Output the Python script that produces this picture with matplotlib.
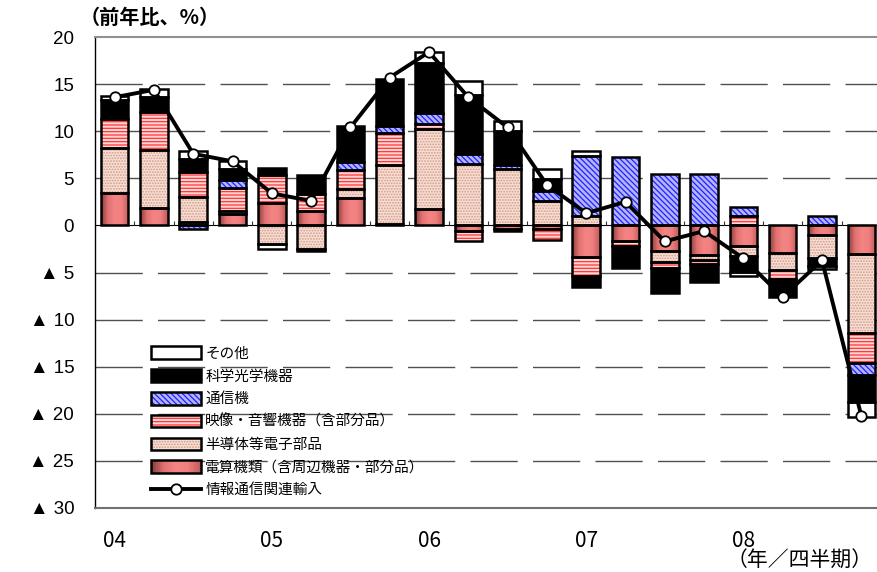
import numpy as np
import matplotlib
matplotlib.use("Agg")
import matplotlib.pyplot as plt
from matplotlib.patches import Patch, Rectangle
from matplotlib.lines import Line2D
from matplotlib.legend_handler import HandlerBase
from matplotlib.colors import LinearSegmentedColormap

plt.rcParams['font.family'] = ['Noto Sans CJK JP', 'DejaVu Sans']
plt.rcParams['hatch.linewidth'] = 0.9

# quarters 04Q1 .. 08Q4
quarters = ["04", "", "", "", "05", "", "", "", "06", "", "", "",
            "07", "", "", "", "08", "", "", ""]

# contributions (% points), stacked from the bottom up
densan = [3.4, 1.9, 0.4, 1.2, 2.4, 1.5, 2.9, 0.2, 1.75, -0.6,
          -0.35, -0.35, -3.35, -1.65, -2.7, -3.15, -2.2, -2.9, -1.0, -3.0]
handotai = [4.8, 6.1, 2.6, 0.3, -2.0, -2.5, 1.0, 6.2, 8.45, 6.5,
            6.0, 2.55, 1.05, 0, -1.15, -0.5, -1.05, -1.85, -2.45, -8.4]
eizo = [3.1, 4.0, 2.7, 2.5, 2.9, 1.8, 2.0, 3.4, 0.6, -1.05,
        -0.25, -1.25, -2.05, -0.55, -0.7, -0.4, 1.05, -0.9, 0, -3.25]
tsushin = [0, 0, -0.35, 0.8, 0, 0, 0.8, 0.75, 1.15, 1.05,
           0.45, 1.15, 6.35, 7.3, 5.5, 5.5, 0.9, 0, 1.05, -1.25]
kagaku = [2.0, 1.65, 1.3, 1.2, 0.8, 2.0, 3.8, 5.0, 5.3, 6.3,
          3.6, 1.2, -1.1, -2.35, -2.65, -2.0, -1.65, -1.95, -0.9, -2.8]
sonota = [0.4, 0.8, 0.95, 0.8, -0.5, -0.2, 0, 0, 1.2, 1.5,
          1.05, 1.05, 0.45, 0, 0, 0, -0.5, 0, -0.25, -1.6]
total = [13.6, 14.4, 7.6, 6.8, 3.4, 2.6, 10.4, 15.7, 18.4, 13.6,
         10.4, 4.3, 1.3, 2.5, -1.7, -0.6, -3.5, -7.6, -3.7, -20.2]

yticks = [20, 15, 10, 5, 0, -5, -10, -15, -20, -25, -30]
ylabels = ["20", "15", "10", "5", "0", "▲ 5", "▲ 10", "▲ 15", "▲ 20", "▲ 25", "▲ 30"]

names = ["電算機類（含周辺機器・部分品）", "半導体等電子部品", "映像・音響機器（含部分品）",
         "通信機", "科学光学機器", "その他"]
line_name = "情報通信関連輸入"

grad_cmap = LinearSegmentedColormap.from_list(
    "dens", ["#8a3e3e", "#e27272", "#f48484", "#f07e7e", "#c05c5c"])

# style per series: (face, hatch, hatch colour, gradient?)
styles = [
    ("#e87878", None, "none", True),
    ("#f6e0d6", "......", "#d79a88", False),
    ("#ffd6d6", "-----", "#ff3535", False),
    ("#b4b4ff", "\\\\\\\\\\\\", "#2020ff", False),
    ("black", None, "black", False),
    ("white", None, "white", False),
]

fig = plt.figure(figsize=(8.77, 5.72), dpi=100)
ax = fig.add_axes([95 / 877, 64 / 572, 782 / 877, 471 / 572])

x = np.arange(len(total))
w = 0.7
pos_b = np.zeros(len(x))
neg_b = np.zeros(len(x))

for vals, st in zip([densan, handotai, eizo, tsushin, kagaku, sonota], styles):
    v = np.array(vals, dtype=float)
    bottom = np.where(v >= 0, pos_b, neg_b)
    m = v != 0
    face, hatch, hcol, grad = st
    if grad:
        border = ax.bar(x[m], v[m], w, bottom=bottom[m], facecolor="none",
                        edgecolor="black", lw=1.8, zorder=3)
        for p in border.patches:
            x0, y0 = p.get_x(), p.get_y()
            im = ax.imshow(np.linspace(0, 1, 64).reshape(1, -1), cmap=grad_cmap,
                           extent=[x0, x0 + p.get_width(), y0, y0 + p.get_height()],
                           aspect="auto", zorder=2.5, interpolation="bilinear")
            im.set_clip_path(p)
    else:
        ax.bar(x[m], v[m], w, bottom=bottom[m], facecolor=face, hatch=hatch,
               edgecolor=hcol, lw=0, zorder=2.5)
        ax.bar(x[m], v[m], w, bottom=bottom[m], fill=False,
               edgecolor="black", lw=1.8, zorder=3)
    pos_b = pos_b + np.where(v > 0, v, 0)
    neg_b = neg_b + np.where(v < 0, v, 0)

ax.plot(x, total, color="black", lw=2.8, marker="o", ms=7.5,
        mfc="white", mec="black", mew=1.3, zorder=5)

# zero line with category separators
ax.axhline(0, color="black", lw=0.8, zorder=2)
ax.vlines(x[:-1] + 0.5, 0, 0.5, color="#333333", lw=0.8, zorder=2)

ax.set_xlim(-0.5, 19.4)
ax.set_ylim(-30, 20)
ax.set_yticks(yticks)
ax.set_yticklabels(ylabels, fontsize=13.5, family=["Liberation Sans", "DejaVu Sans"])
ax.set_xticks(x)
ax.set_xticklabels(quarters, fontsize=15)
ax.tick_params(axis="both", length=0)
ax.tick_params(axis="y", pad=15)
ax.tick_params(axis="x", pad=16)

for yv in yticks:
    if yv != 0 and yv != 20 and yv != -30:
        ax.axhline(yv, color="#505050", lw=1.0, dashes=(34, 11), zorder=1)

ax.spines["right"].set_visible(False)
ax.spines["top"].set_color("#909090")
ax.spines["top"].set_linewidth(1.5)
ax.spines["bottom"].set_color("#707070")
ax.spines["bottom"].set_linewidth(1.5)
ax.spines["left"].set_color("black")
ax.spines["left"].set_linewidth(1.0)

fig.text(80 / 877, 1 - 17 / 572, "（前年比、%）", fontsize=14.5, weight="bold",
         ha="left", va="center")
fig.text(1 - 4 / 877, 1 - 561 / 572, "（年／四半期）", fontsize=15,
         ha="right", va="center")


class BoxHandler(HandlerBase):
    def __init__(self, face, hatch, hcol, grad):
        super().__init__()
        self.face, self.hatch, self.hcol, self.grad = face, hatch, hcol, grad

    def create_artists(self, legend, orig_handle, xdescent, ydescent,
                       width, height, fontsize, trans):
        x0, y0 = -xdescent, -ydescent
        arts = []
        if self.grad:
            n = 30
            for i in range(n):
                arts.append(Rectangle((x0 + width * i / n, y0), width / n * 1.05, height,
                                      facecolor=grad_cmap(i / (n - 1)), lw=0,
                                      transform=trans))
        else:
            arts.append(Rectangle((x0, y0), width, height, facecolor=self.face,
                                  hatch=self.hatch, edgecolor=self.hcol, lw=0,
                                  transform=trans))
        arts.append(Rectangle((x0, y0), width, height, fill=False,
                              edgecolor="black", lw=1.8, transform=trans))
        return arts


handles = []
hmap = {}
for nm, st in zip(names, styles):
    h = Patch(label=nm)
    handles.append(h)
    hmap[h] = BoxHandler(*st)
handles = handles[::-1]
handles.append(Line2D([], [], color="black", lw=2.8, marker="o", ms=7.5,
                      mfc="white", mec="black", mew=1.3, label=line_name))

ax.legend(handles=handles, handler_map=hmap, loc="upper left",
          bbox_to_anchor=(0.072, 0.343), frameon=False, fontsize=10.5,
          handlelength=3.4, handleheight=0.95, handletextpad=0.3,
          labelspacing=0.58, borderpad=0, borderaxespad=0)

fig.savefig("out.png", dpi=100)
